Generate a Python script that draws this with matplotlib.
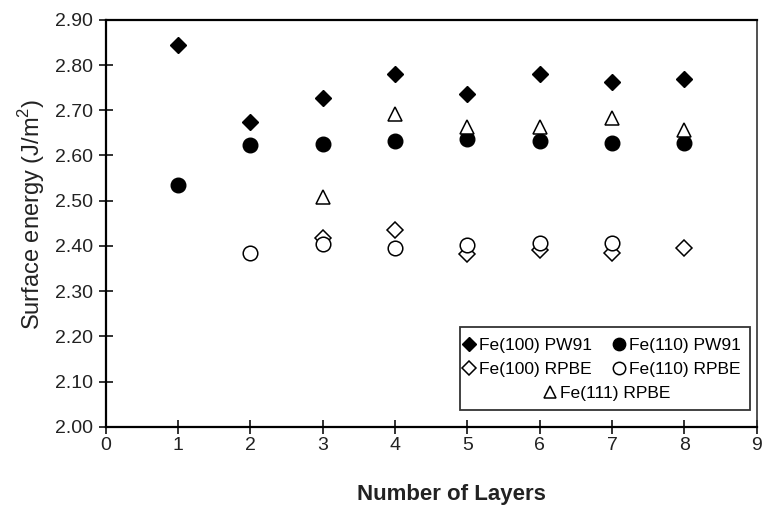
import matplotlib.pyplot as plt
from matplotlib.patches import Rectangle

plt.rcParams['font.family'] = ['Liberation Sans', 'DejaVu Sans']

# surface energies (J/m^2) vs number of slab layers
layers_100_pw91 = [1, 2, 3, 4, 5, 6, 7, 8]
fe100_pw91 = [2.845, 2.675, 2.727, 2.780, 2.737, 2.780, 2.763, 2.770]

layers_110_pw91 = [1, 2, 3, 4, 5, 6, 7, 8]
fe110_pw91 = [2.535, 2.623, 2.625, 2.632, 2.636, 2.632, 2.628, 2.627]

layers_100_rpbe = [3, 4, 5, 6, 7, 8]
fe100_rpbe = [2.418, 2.435, 2.383, 2.390, 2.385, 2.395]

layers_110_rpbe = [2, 3, 4, 5, 6, 7]
fe110_rpbe = [2.385, 2.404, 2.396, 2.402, 2.406, 2.406]

layers_111_rpbe = [3, 4, 5, 6, 7, 8]
fe111_rpbe = [2.508, 2.692, 2.663, 2.663, 2.683, 2.657]

yticks = [2.0 + 0.1 * i for i in range(10)]

fig = plt.figure(figsize=(7.66, 5.07), dpi=100)
ax = fig.add_axes([0.138, 0.158, 0.850, 0.803])

ms = 10
ax.plot(layers_100_pw91, fe100_pw91, 'D', ms=ms * 0.8, color='black', label='Fe(100) PW91')
ax.plot(layers_110_pw91, fe110_pw91, 'o', ms=ms * 1.05, color='black', label='Fe(110) PW91')
ax.plot(layers_100_rpbe, fe100_rpbe, 'D', ms=ms * 0.78, mfc='white', mec='black', mew=1.1,
        label='Fe(100) RPBE')
ax.plot(layers_110_rpbe, fe110_rpbe, 'o', ms=ms * 1.05, mfc='white', mec='black', mew=1.1,
        label='Fe(110) RPBE')
ax.plot(layers_111_rpbe, fe111_rpbe, '^', ms=ms * 1.05, mfc='white', mec='black', mew=1.1,
        label='Fe(111) RPBE')

ax.set_xlim(0, 9)
ax.set_ylim(2.0, 2.9)
ax.set_xticks(range(0, 10))
ax.set_yticks(yticks)
ax.set_yticklabels([f"{v:.2f}" for v in yticks])
ax.tick_params(direction='inout', length=10, width=1.3, labelsize=14, colors='#222222')
ax.tick_params(axis='x', pad=2)
ax.tick_params(axis='y', pad=4)

for side in ['left', 'bottom', 'top']:
    ax.spines[side].set_linewidth(1.6)
ax.spines['right'].set_linewidth(1.2)
ax.spines['right'].set_color('#333333')

ax.set_xlabel('Number of Layers', fontsize=16, fontweight='bold', color='#222222')
ax.xaxis.set_label_coords(0.531, -0.14)
ax.set_ylabel('Surface energy (J/m$^\\mathregular{2}$)', fontsize=17, color='#222222')
ax.yaxis.set_label_coords(-0.09, 0.521)

# legend: two rows of two entries, the last one centred below, in one shared frame
h, l = ax.get_legend_handles_labels()
order = [0, 2, 1, 3]
leg_kw = dict(frameon=False, fontsize=12.5, markerscale=0.85, handlelength=0.7,
              handletextpad=0.25, borderaxespad=0, borderpad=0)
leg1 = ax.legend([h[i] for i in order], [l[i] for i in order], ncol=2,
                 loc='upper center', bbox_to_anchor=(0.762, 0.218),
                 columnspacing=1.2, labelspacing=0.47, **leg_kw)
ax.add_artist(leg1)
ax.legend(h[4:], l[4:], loc='upper center', bbox_to_anchor=(0.770, 0.100), **leg_kw)
ax.add_patch(Rectangle((0.544, 0.042), 0.4455, 0.204, transform=ax.transAxes,
                       fill=False, ec='#333333', lw=1.3, zorder=5))

fig.savefig('out.png', dpi=100)
